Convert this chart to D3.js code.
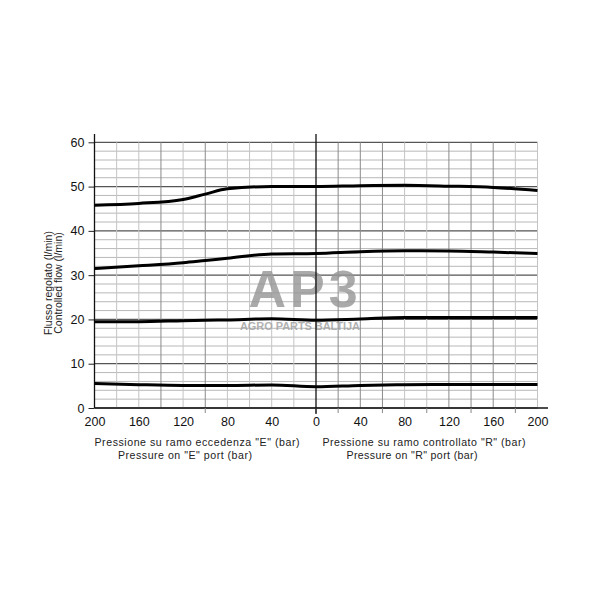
<!DOCTYPE html>
<html>
<head>
<meta charset="utf-8">
<script src="https://cdn.jsdelivr.net/npm/d3@7"></script>
<style>
  html, body { margin: 0; padding: 0; background: #fff; }
  svg { display: block; font-family: "Liberation Sans", Arial, sans-serif; }
</style>
</head>
<body>
<svg id="chart" width="600" height="600"></svg>
<script>
// Pressure (bar): negative = "E" port side, positive = "R" port side
const pressure = [-200, -160, -120, -100, -80, -40, 0, 40, 80, 120, 160, 200];
const flow50 = [45.8, 46.2, 47.1, 48.3, 49.5, 50.0, 50.0, 50.2, 50.3, 50.1, 49.8, 49.1];
const flow35 = [31.5, 32.1, 32.8, 33.3, 33.8, 34.8, 34.9, 35.3, 35.5, 35.45, 35.2, 34.9];
const flow20 = [19.5, 19.5, 19.7, 19.8, 19.9, 20.15, 19.8, 20.1, 20.45, 20.45, 20.45, 20.45];
const flow5  = [5.55, 5.27, 5.1, 5.1, 5.1, 5.2, 4.8, 5.1, 5.25, 5.3, 5.3, 5.3];
const series = [flow50, flow35, flow20, flow5];
const xTicks = [-200, -160, -120, -80, -40, 0, 40, 80, 120, 160, 200];
const yTicks = [0, 10, 20, 30, 40, 50, 60];
const xTitleE = ['Pressione su ramo eccedenza "E" (bar)', 'Pressure on "E" port (bar)'];
const xTitleR = ['Pressione su ramo controllato "R" (bar)', 'Pressure on "R" port (bar)'];
const yTitle = ['Flusso regolato (l/min)', 'Controlled flow (l/min)'];

const svg = d3.select("#chart");
const x = d3.scaleLinear().domain([-200, 200]).range([94.5, 537.5]);
const y = d3.scaleLinear().domain([0, 60]).range([408, 142.3]);
const tickFont = "'Liberation Sans', Arial, sans-serif";

// grid
const g = svg.append("g");
const minorY = d3.range(0, 61, 2);
g.selectAll("line.hy").data(minorY).join("line")
  .attr("x1", x(-200)).attr("x2", x(200))
  .attr("y1", d => y(d)).attr("y2", d => y(d))
  .attr("stroke", d => d % 10 === 0 ? "#555" : "#b8b8b8")
  .attr("stroke-width", d => d % 10 === 0 ? 1.2 : 1);
const gridX = d3.range(-200, 201, 20).filter(d => d !== 0 && d !== -200);
const darkX = [-140, -100, 20, 40, 60, 120, 140, 160];
g.selectAll("line.vx").data(gridX).join("line")
  .attr("y1", y(60)).attr("y2", y(0))
  .attr("x1", d => x(d)).attr("x2", d => x(d))
  .attr("stroke", d => darkX.includes(d) ? "#8a8a8a" : "#c4c4c4")
  .attr("stroke-width", 1);

// watermark
const wm = svg.append("g").attr("opacity", 0.8);
wm.append("text").attr("x", 305).attr("y", 307).attr("text-anchor", "middle")
  .attr("font-size", 52).attr("font-weight", "bold").attr("fill", "#969696")
  .attr("letter-spacing", 4).text("AP3");
wm.append("text").attr("x", 300).attr("y", 329.5).attr("text-anchor", "middle")
  .attr("font-size", 11).attr("font-weight", "bold").attr("fill", "#a0a0a0")
  .attr("textLength", 120).text("AGRO PARTS BALTIJA");

// axes
const xAxis = d3.axisBottom(x).tickValues(xTicks).tickSize(0).tickPadding(9)
  .tickFormat(d => Math.abs(d));
const ax = svg.append("g").attr("transform", `translate(0,${y(0)})`).call(xAxis);
ax.select(".domain").remove();
ax.selectAll("text").attr("font-size", 12.5).attr("fill", "#111")
  .attr("font-family", tickFont);
svg.append("line").attr("x1", x(-200)).attr("x2", 548).attr("y1", y(0)).attr("y2", y(0))
  .attr("stroke", "#111").attr("stroke-width", 1.3);
// small ticks below x-axis
svg.selectAll("line.xt").data([-100, 0, 20, 60, 100, 140, 180]).join("line")
  .attr("x1", d => x(d)).attr("x2", d => x(d))
  .attr("y1", y(0)).attr("y2", y(0) + 5)
  .attr("stroke", "#888").attr("stroke-width", 1);

const yAxis = d3.axisLeft(y).tickValues(yTicks).tickSize(6).tickPadding(4);
const ay = svg.append("g").attr("transform", `translate(${x(-200)},0)`).call(yAxis);
ay.select(".domain").remove();
ay.selectAll("line").attr("stroke", "#222");
ay.selectAll("text").attr("font-size", 12.5).attr("fill", "#111")
  .attr("font-family", tickFont);
svg.append("line").attr("x1", x(-200)).attr("x2", x(-200)).attr("y1", 134).attr("y2", y(0))
  .attr("stroke", "#111").attr("stroke-width", 1.3);
svg.append("line").attr("x1", x(0)).attr("x2", x(0)).attr("y1", 134).attr("y2", y(0) + 6)
  .attr("stroke", "#111").attr("stroke-width", 1.3);

// curves
const line = d3.line().x((d, i) => x(pressure[i])).y(d => y(d)).curve(d3.curveMonotoneX);
svg.selectAll("path.curve").data(series).join("path")
  .attr("d", line).attr("fill", "none").attr("stroke", "#000").attr("stroke-width", 3);

// titles
const t = svg.append("g").attr("font-size", 10.6).attr("fill", "#222").attr("text-anchor", "middle");
t.append("text").attr("x", 197).attr("y", 446).attr("textLength", 205).text(xTitleE[0]);
t.append("text").attr("x", 185).attr("y", 458.5).attr("textLength", 134).text(xTitleE[1]);
t.append("text").attr("x", 424).attr("y", 446).attr("textLength", 203).text(xTitleR[0]);
t.append("text").attr("x", 412).attr("y", 458.5).attr("textLength", 131).text(xTitleR[1]);
t.append("text").attr("transform", "translate(52,283) rotate(-90)").attr("font-size", 10.5).text(yTitle[0]);
t.append("text").attr("transform", "translate(62,283) rotate(-90)").attr("font-size", 10.5).text(yTitle[1]);
</script>
</body>
</html>
